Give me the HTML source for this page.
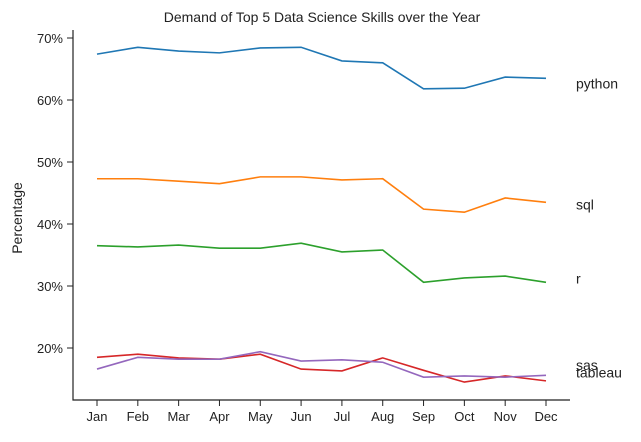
<!DOCTYPE html>
<html><head><meta charset="utf-8"><style>
body{margin:0;background:#fff;}
svg{font-family:"Liberation Sans","DejaVu Sans",sans-serif;}
</style></head><body>
<svg id="chart" width="641" height="437"></svg>
<script>
const months=["Jan","Feb","Mar","Apr","May","Jun","Jul","Aug","Sep","Oct","Nov","Dec"];
const skills=["python","sql","r","sas","tableau"];
const python=[67.4,68.5,67.9,67.6,68.4,68.5,66.3,66.0,61.8,61.9,63.7,63.5];
const sql=[47.3,47.3,46.9,46.5,47.6,47.6,47.1,47.3,42.4,41.9,44.2,43.5];
const r=[36.5,36.3,36.6,36.1,36.1,36.9,35.5,35.8,30.6,31.3,31.6,30.6];
const sas=[18.5,19.0,18.4,18.2,19.0,16.6,16.3,18.4,16.4,14.5,15.5,14.7];
const tableau=[16.6,18.5,18.2,18.2,19.4,17.9,18.1,17.7,15.3,15.5,15.3,15.6];
const yTicks=[20,30,40,50,60,70];
const series=[python,sql,r,sas,tableau];
const colors=["#1f77b4","#ff7f0e","#2ca02c","#d62728","#9467bd"];
const labelOffsets=[5,2,-4,-16,-3];
const NS="http://www.w3.org/2000/svg";
const svg=document.getElementById("chart");
const x=i=>97+i*(449/11);
const y=v=>38+(70-v)*6.2;
function mk(tag,attrs,parent){const e=document.createElementNS(NS,tag);for(const k in attrs)e.setAttribute(k,attrs[k]);(parent||svg).appendChild(e);return e;}
const t=mk("text",{x:322,y:22,"text-anchor":"middle","font-size":14,fill:"#222"});


t.textContent="Demand of Top 5 Data Science Skills over the Year";
const yl=mk("text",{x:0,y:0,transform:"translate(22,218) rotate(-90)","text-anchor":"middle","font-size":14,fill:"#222"});


yl.textContent="Percentage";
const ax=mk("path",{d:"M73,30 V400 H570",fill:"none",stroke:"#222","stroke-width":1.2});


yTicks.forEach(v=>{
  mk("line",{x1:67,x2:73,y1:y(v),y2:y(v),stroke:"#222"});
  const tx=mk("text",{x:63,y:y(v)+5,"text-anchor":"end","font-size":13,fill:"#222"});
  
  
  tx.textContent=v+"%";
});
months.forEach((m,i)=>{
  mk("line",{x1:x(i),x2:x(i),y1:400,y2:406,stroke:"#222"});
  const tx=mk("text",{x:x(i),y:421,"text-anchor":"middle","font-size":13,fill:"#222"});
  
  
  tx.textContent=m;
});
series.forEach((s,k)=>{
  const p=mk("polyline",{points:s.map((v,i)=>x(i)+","+y(v)).join(" "),fill:"none",stroke:colors[k],"stroke-width":1.6});
  
  
  const lb=mk("text",{x:576,y:y(s[s.length-1])+labelOffsets[k]+5,"font-size":14,fill:"#222"});
  
  
  lb.textContent=skills[k];
});
</script>
</body></html>
